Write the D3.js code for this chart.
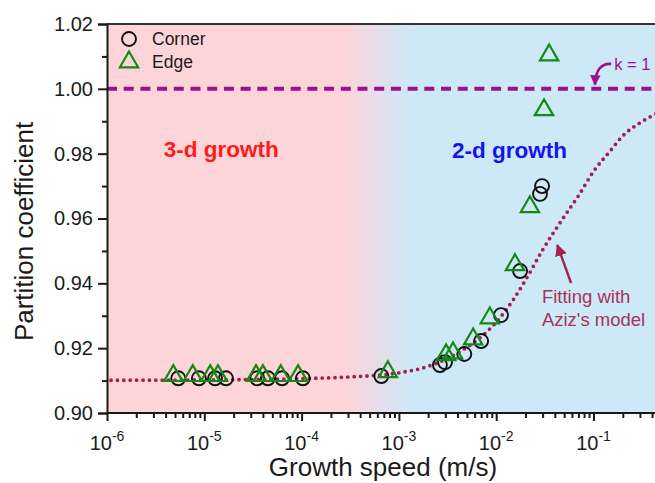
<!DOCTYPE html>
<html>
<head>
<meta charset="utf-8">
<script src="https://cdn.jsdelivr.net/npm/d3@7"></script>
<style>
    body { margin: 0; background: #fff; }
    svg { display: block; overflow: hidden; }
    text { font-family: "Liberation Sans", Arial, sans-serif; fill: #1a1a1a; }
    .axis path, .axis line { stroke: #1a1a1a; stroke-width: 2; }
</style>
</head>
<body>
<div id="chart"></div>
<script>
// growth speed (m/s) and partition coefficient
const cornerSpeed = [5.4e-6, 8.8e-6, 1.29e-5, 1.67e-5, 3.5e-5, 4.5e-5, 6.3e-5, 1.03e-4,
    6.6e-4, 2.64e-3, 2.98e-3, 4.7e-3, 7.0e-3, 1.12e-2, 1.76e-2, 2.82e-2, 2.96e-2];
const cornerK = [0.9107, 0.9107, 0.9107, 0.9107, 0.9107, 0.9107, 0.9107, 0.9107,
    0.9114, 0.9148, 0.9157, 0.9182, 0.9222, 0.9302, 0.9438, 0.9676, 0.970];

const edgeSpeed = [4.8e-6, 7.6e-6, 1.15e-5, 1.38e-5, 3.4e-5, 4.0e-5, 6.1e-5, 9.2e-5,
    7.7e-4, 3.05e-3, 3.6e-3, 5.8e-3, 8.6e-3, 1.56e-2, 2.22e-2, 3.1e-2, 3.5e-2];
const edgeK = [0.9115, 0.9115, 0.9115, 0.9115, 0.9115, 0.9115, 0.9115, 0.9115,
    0.9127, 0.9179, 0.9185, 0.9228, 0.9293, 0.9457, 0.9636, 0.9935, 1.0104];

// Aziz model fit, sampled from the dotted curve
const fitSpeed = [1.1e-6, 1e-5, 1e-4, 3e-4, 1e-3, 2e-3, 4e-3, 7e-3, 1e-2, 1.5e-2, 2e-2,
    3e-2, 5e-2, 7e-2, 0.1, 0.15, 0.2, 0.3, 0.45];
const fitK = [0.9101, 0.9102, 0.9106, 0.9111, 0.9124, 0.9144, 0.9185, 0.9235, 0.928, 0.935, 0.941,
    0.9503, 0.9606, 0.967, 0.9745, 0.981, 0.9855, 0.9895, 0.9925];

const xDecades = [-6, -5, -4, -3, -2, -1, 0];
const xLabelDecades = [-6, -5, -4, -3, -2, -1];
const yMajor = [0.90, 0.92, 0.94, 0.96, 0.98, 1.00, 1.02];
const yMinor = [0.91, 0.93, 0.95, 0.97, 0.99, 1.01];
const bgStops = [2.8e-4, 1.36e-3]; // pink -> blue transition

const W = 655, H = 483;
const margin = { top: 24, left: 107, bottom: 70 };
const decade = 97.3;

const svg = d3.select('#chart').append('svg').attr('width', W).attr('height', H);

const x = d3.scaleLog().domain([1e-6, 1]).range([margin.left, margin.left + 6 * decade]);
const y = d3.scaleLinear().domain([0.90, 1.02]).range([H - margin.bottom, margin.top]);

// background regions
const defs = svg.append('defs');
const grad = defs.append('linearGradient')
    .attr('id', 'bg')
    .attr('gradientUnits', 'userSpaceOnUse')
    .attr('x1', x(bgStops[0])).attr('x2', x(bgStops[1]))
    .attr('y1', 0).attr('y2', 0);
grad.append('stop').attr('offset', 0).attr('stop-color', '#fdd5d9');
grad.append('stop').attr('offset', 0.5).attr('stop-color', '#e5dde9');
grad.append('stop').attr('offset', 1).attr('stop-color', '#cde9f7');

svg.append('rect')
    .attr('x', x(1e-6)).attr('y', y(1.02))
    .attr('width', W - x(1e-6)).attr('height', y(0.90) - y(1.02))
    .attr('fill', 'url(#bg)');

defs.append('clipPath').attr('id', 'plotclip')
    .append('rect')
    .attr('x', x(1e-6)).attr('y', y(1.02) - 10)
    .attr('width', W).attr('height', y(0.90) - y(1.02) + 10);

// region labels
svg.append('text')
    .attr('x', x(1.49e-5)).attr('y', y(0.979))
    .attr('text-anchor', 'middle')
    .style('font-size', '22.5px').style('font-weight', 'bold').style('fill', '#ff1a1a')
    .text('3-d growth');
svg.append('text')
    .attr('x', x(1.37e-2)).attr('y', y(0.9787))
    .attr('text-anchor', 'middle')
    .style('font-size', '22.5px').style('font-weight', 'bold').style('fill', '#1414ee')
    .text('2-d growth');

const plot = svg.append('g').attr('clip-path', 'url(#plotclip)');

// k = 1 reference line
plot.append('line')
    .attr('x1', x(1e-6)).attr('x2', W)
    .attr('y1', y(1)).attr('y2', y(1))
    .attr('stroke', '#9a1093').attr('stroke-width', 4)
    .attr('stroke-dasharray', '10 6.7');

// fit curve
const fitData = fitSpeed.map((v, i) => [v, fitK[i]]);
plot.append('path')
    .datum(fitData)
    .attr('fill', 'none')
    .attr('stroke', '#a3204f')
    .attr('stroke-width', 3.8)
    .attr('stroke-linecap', 'round')
    .attr('stroke-dasharray', '0 6.4')
    .attr('d', d3.line().x((d) => x(d[0])).y((d) => y(d[1])).curve(d3.curveMonotoneX));

// data markers
const circles = cornerSpeed.map((v, i) => [v, cornerK[i]]);
const triangles = edgeSpeed.map((v, i) => [v, edgeK[i]]);
const triSym = d3.symbol().type(d3.symbolTriangle).size(145);

plot.selectAll('.corner')
    .data(circles)
    .join('circle')
    .attr('class', 'corner')
    .attr('cx', (d) => x(d[0])).attr('cy', (d) => y(d[1]))
    .attr('r', 7)
    .attr('fill', 'none').attr('stroke', '#111').attr('stroke-width', 1.9);

plot.selectAll('.edge')
    .data(triangles)
    .join('path')
    .attr('class', 'edge')
    .attr('transform', (d) => `translate(${x(d[0])},${y(d[1])})`)
    .attr('d', triSym)
    .attr('fill', 'none').attr('stroke', '#138a13').attr('stroke-width', 2.2)
    .attr('stroke-linejoin', 'miter');

// annotations
defs.append('marker')
    .attr('id', 'headK').attr('viewBox', '0 0 10 10')
    .attr('refX', 9).attr('refY', 5)
    .attr('markerWidth', 4).attr('markerHeight', 4)
    .attr('markerUnits', 'strokeWidth')
    .attr('orient', 'auto')
    .append('path').attr('d', 'M0,0 L10,5 L0,10 Z').attr('fill', '#9a1093');
defs.append('marker')
    .attr('id', 'headFit').attr('viewBox', '0 0 10 10')
    .attr('refX', 9).attr('refY', 5)
    .attr('markerWidth', 5).attr('markerHeight', 5)
    .attr('markerUnits', 'strokeWidth')
    .attr('orient', 'auto')
    .append('path').attr('d', 'M0,0 L10,5 L0,10 Z').attr('fill', '#a3204f');

const kStart = [x(0.152), y(1.0077)];
const kTip = [x(0.1035), y(1.0013)];
svg.append('path')
    .attr('d', `M${kStart[0]},${kStart[1]} Q${kTip[0] + 1},${kStart[1] - 1} ${kTip[0]},${kTip[1]}`)
    .attr('fill', 'none').attr('stroke', '#9a1093').attr('stroke-width', 2.6)
    .attr('marker-end', 'url(#headK)');
svg.append('text')
    .attr('x', x(0.163)).attr('y', y(1.0059))
    .style('font-size', '16.5px').style('fill', '#9a1093')
    .text('k = 1');

svg.append('line')
    .attr('x1', x(0.0588)).attr('y1', y(0.9401))
    .attr('x2', x(0.0425)).attr('y2', y(0.9518))
    .attr('stroke', '#a3204f').attr('stroke-width', 2.4)
    .attr('marker-end', 'url(#headFit)');
const fitLabel = svg.append('text')
    .attr('x', x(0.0295)).attr('y', y(0.9339))
    .style('font-size', '18.5px').style('fill', '#a8325a');
fitLabel.append('tspan').text('Fitting with');
fitLabel.append('tspan').attr('x', x(0.0295)).attr('dy', 23).text("Aziz's model");

// frame top
svg.append('line')
    .attr('x1', x(1e-6)).attr('x2', W)
    .attr('y1', y(1.02)).attr('y2', y(1.02))
    .attr('stroke', '#333').attr('stroke-width', 2);

// x axis
const minorX = [];
xDecades.slice(0, -1).forEach((e) => {
    for (let m = 2; m <= 9; m++) minorX.push(m * Math.pow(10, e));
});
const xMinorAxis = d3.axisBottom(x).tickValues(minorX).tickSize(5).tickFormat('');
const xMajorAxis = d3.axisBottom(x).tickValues(xDecades.map((e) => Math.pow(10, e)))
    .tickSize(8).tickFormat('');

svg.append('g').attr('class', 'axis')
    .attr('transform', `translate(0,${y(0.90)})`)
    .call(xMinorAxis)
    .select('.domain').remove();
const gx = svg.append('g').attr('class', 'axis')
    .attr('transform', `translate(0,${y(0.90)})`)
    .call(xMajorAxis);
gx.select('.domain').attr('d', `M${x(1e-6)},0H${W}`);

const xLabels = svg.append('g');
xLabelDecades.forEach((e) => {
    const t = xLabels.append('text')
        .attr('x', x(Math.pow(10, e)))
        .attr('y', y(0.90) + 37)
        .attr('text-anchor', 'middle')
        .style('font-size', '20px');
    t.append('tspan').text('10');
    t.append('tspan').attr('dy', -9).style('font-size', '14px').text(String(e));
});

// y axis
const yMinorAxis = d3.axisLeft(y).tickValues(yMinor).tickSize(5).tickFormat('');
const yMajorAxis = d3.axisLeft(y).tickValues(yMajor).tickSize(9).tickPadding(5)
    .tickFormat(d3.format('.2f'));
svg.append('g').attr('class', 'axis')
    .attr('transform', `translate(${x(1e-6)},0)`)
    .call(yMinorAxis)
    .select('.domain').remove();
const gy = svg.append('g').attr('class', 'axis')
    .attr('transform', `translate(${x(1e-6)},0)`)
    .call(yMajorAxis);
gy.selectAll('text')
    .style('font-size', '20px')
    .style('font-family', '"Liberation Sans", Arial, sans-serif')
    .attr('fill', '#1a1a1a');

// axis titles
svg.append('text')
    .attr('x', 383)
    .attr('y', H - 7)
    .attr('text-anchor', 'middle')
    .style('font-size', '26px')
    .text('Growth speed (m/s)');
svg.append('text')
    .attr('transform', `translate(33,${(y(0.90) + y(1.02)) / 2 + 13}) rotate(-90)`)
    .attr('text-anchor', 'middle')
    .style('font-size', '26px')
    .text('Partition coefficient');

// legend
const legend = svg.append('g').attr('transform', `translate(${x(1e-6) + 22},0)`);
legend.append('circle').attr('cx', 0).attr('cy', 39).attr('r', 7)
    .attr('fill', 'none').attr('stroke', '#111').attr('stroke-width', 1.9);
legend.append('path').attr('transform', 'translate(0,62)').attr('d', triSym)
    .attr('fill', 'none').attr('stroke', '#138a13').attr('stroke-width', 2.2);
legend.append('text').attr('x', 23).attr('y', 45).style('font-size', '17.5px').text('Corner');
legend.append('text').attr('x', 23).attr('y', 68).style('font-size', '17.5px').text('Edge');
</script>
</body>
</html>
